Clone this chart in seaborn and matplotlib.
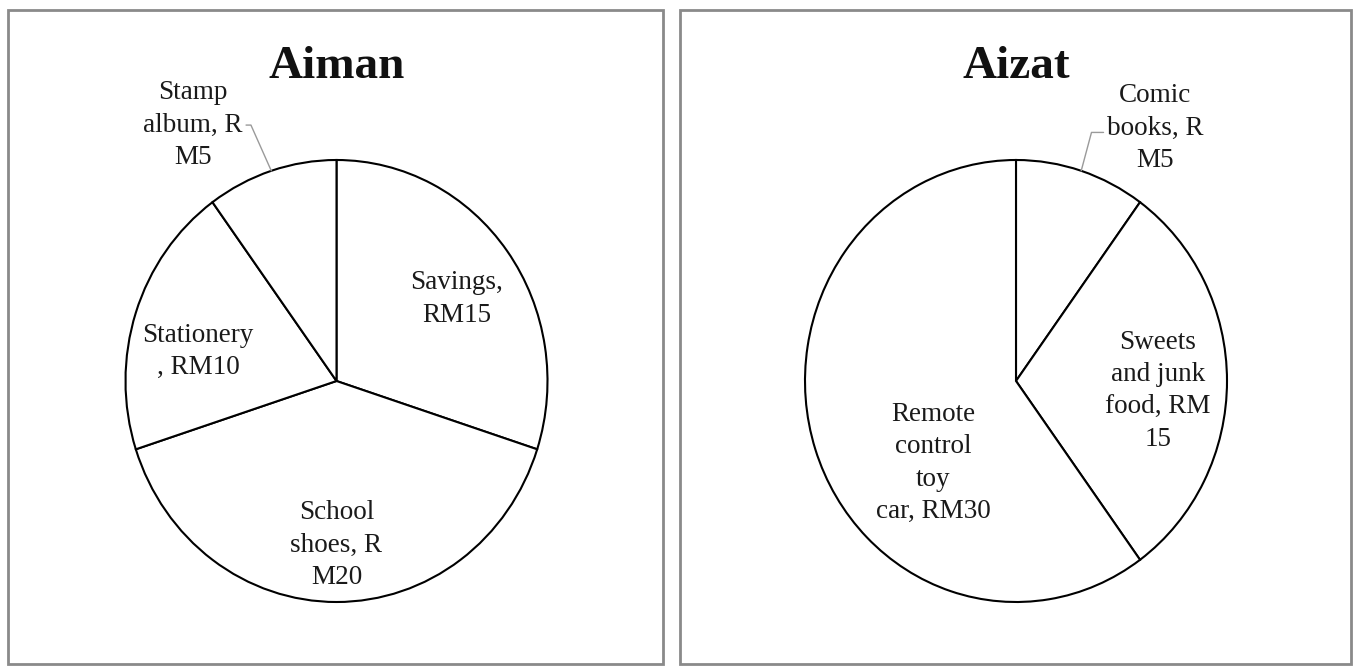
import matplotlib
matplotlib.use("Agg")
import matplotlib.pyplot as plt
import seaborn as sns
import numpy as np
from matplotlib.patches import Rectangle

# ---- data ----
aiman_items = ["Savings", "School shoes", "Stationery", "Stamp album"]
aiman_values = [15, 20, 10, 5]
aiman_labels = ["Savings,\nRM15", "School\nshoes, R\nM20", "Stationery\n, RM10", "Stamp\nalbum, R\nM5"]

aizat_items = ["Comic books", "Sweets and junk food", "Remote control toy car"]
aizat_values = [5, 15, 30]
aizat_labels = ["Comic\nbooks, R\nM5", "Sweets\nand junk\nfood, RM\n15", "Remote\ncontrol\ntoy\ncar, RM30"]

titles = ["Aiman", "Aizat"]

# ---- style ----
sns.set_theme(style="white")
plt.rcParams["font.family"] = ["Liberation Serif", "DejaVu Serif"]

W, H = 1356, 667
fig = plt.figure(figsize=(W / 100, H / 100), dpi=100)
fig.patch.set_facecolor("white")

# panel frames (pixel coords, top-left origin)
for (x0, x1) in [(8, 663), (680, 1351)]:
    y0, y1 = 10, 664
    fig.patches.append(Rectangle((x0 / W, 1 - y1 / H), (x1 - x0) / W, (y1 - y0) / H,
                                 transform=fig.transFigure, fill=False,
                                 edgecolor="#8a8a8a", lw=2.0))


def box(cx, cy, rx, ry):
    return [(cx - rx) / W, 1 - (cy + ry) / H, 2 * rx / W, 2 * ry / H]


LS = 1.38


def draw(ax, values, labels, title, label_pos, callouts):
    wedges, texts = ax.pie(values, labels=labels, startangle=90, counterclock=False,
                           labeldistance=0.7, colors=["white"] * len(values),
                           wedgeprops=dict(edgecolor="black", linewidth=1.5),
                           textprops=dict(fontsize=19.5, color="#1a1a1a"))
    ax.set_aspect("auto")
    ax.set_xlim(-1, 1)
    ax.set_ylim(-1, 1)
    ax.axis("off")
    for w in wedges:
        w.set_clip_on(False)
    for i, t in enumerate(texts):
        t.set_position(label_pos[i])
        t.set_ha("center")
        t.set_va("center")
        t.set_multialignment("center")
        t.set_linespacing(LS)
        t.set_clip_on(False)
    for i, (relpos, angB) in callouts.items():
        w = wedges[i]
        mid = np.deg2rad((w.theta1 + w.theta2) / 2)
        texts[i].set_visible(False)
        ax.annotate(labels[i], xy=(np.cos(mid), np.sin(mid)), xytext=label_pos[i],
                    ha="center", va="center", fontsize=19.5, color="#1a1a1a",
                    multialignment="center", linespacing=LS, annotation_clip=False,
                    arrowprops=dict(arrowstyle="-", color="#9a9a9a", lw=1.0,
                                    shrinkA=0, shrinkB=0, relpos=relpos,
                                    connectionstyle=f"angle,angleA=0,angleB={angB},rad=0"))
    ax.text(0, 1.371, title, ha="center", va="baseline", fontsize=34,
            fontweight="bold", color="#111111", clip_on=False)


ax1 = fig.add_axes(box(336.5, 381, 211, 221))
draw(ax1, aiman_values, aiman_labels, titles[0],
     [(0.57, 0.371), (0.0, -0.742), (-0.655, 0.133), (-0.68, 1.158)],
     {3: ((1, 0.5), 114)})

ax2 = fig.add_axes(box(1016, 381, 211, 221))
draw(ax2, aizat_values, aizat_labels, titles[1],
     [(0.659, 1.145), (0.673, -0.044), (-0.393, -0.371)],
     {0: ((0, 0.45), 75)})

fig.savefig("out.png", dpi=100, facecolor="white")
